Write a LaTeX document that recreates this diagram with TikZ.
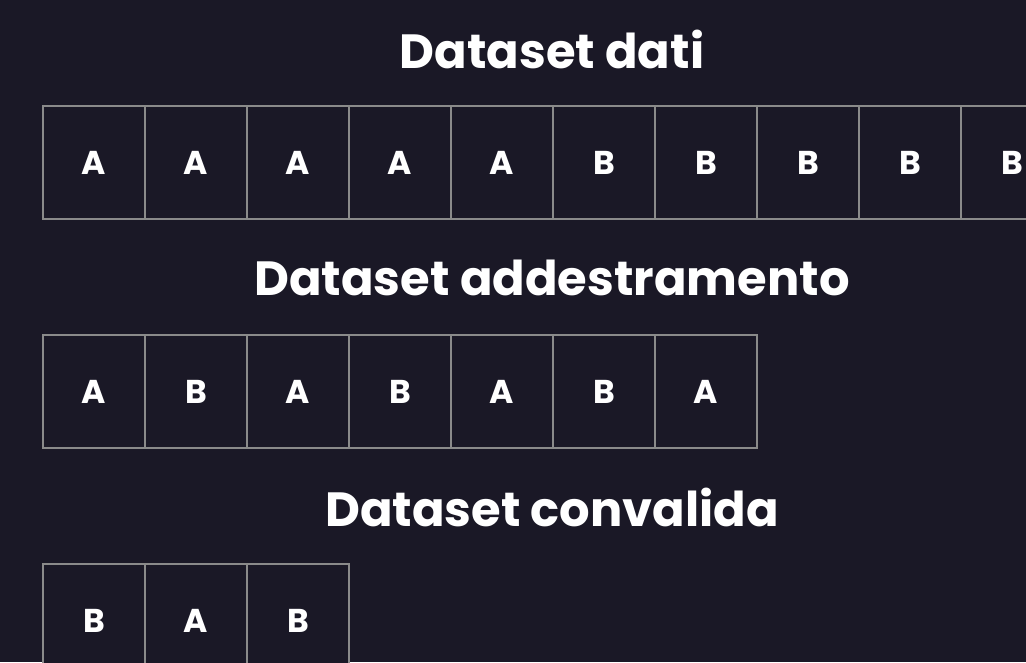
\documentclass[tikz,border=0pt]{standalone}
\usepackage{fontspec}
\setmainfont{Poppins}
\definecolor{bg}{HTML}{1A1826}
\definecolor{edge}{HTML}{8A8A8A}
\tikzset{
  cell/.style={draw=edge, line width=2pt, fill=bg, minimum width=102pt, minimum height=113pt, inner sep=0pt, text=white, font=\fontsize{33}{33}\bfseries\selectfont, anchor=north west},
  title/.style={text=white, font=\fontsize{48}{48}\bfseries\selectfont, anchor=center}
}
\begin{document}
\begin{tikzpicture}[x=1pt,y=-1pt]
\fill[bg] (0,0) rectangle (1026,662);
\useasboundingbox (0,0) rectangle (1026,662);
\node[title] (t1) at (552,49) {Dataset dati};
\node[title] (t2) at (552,278) {Dataset addestramento};
\node[title] (t3) at (552,507) {Dataset convalida};
\foreach \l [count=\i from 0] in {A,A,A,A,A,B,B,B,B,B}
  \node[cell] (r1c\i) at (42+102*\i,105) {\l};
\foreach \l [count=\i from 0] in {A,B,A,B,A,B,A}
  \node[cell] (r2c\i) at (42+102*\i,334) {\l};
\foreach \l [count=\i from 0] in {B,A,B}
  \node[cell] (r3c\i) at (42+102*\i,563) {\l};
\end{tikzpicture}
\end{document}
